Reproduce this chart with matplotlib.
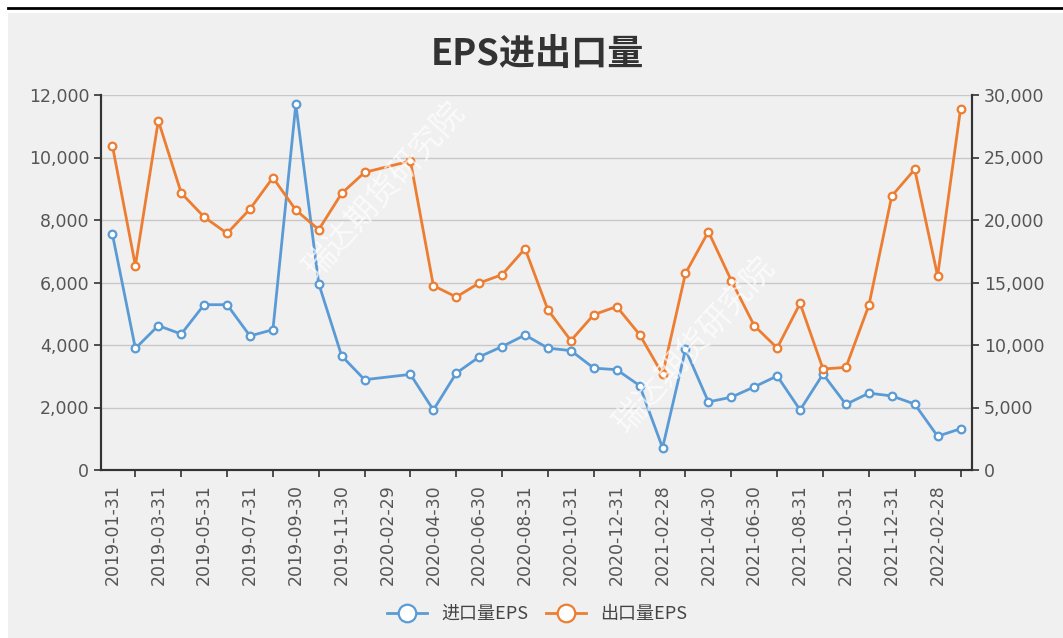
import numpy as np
import matplotlib.pyplot as plt
from matplotlib.ticker import FuncFormatter, FixedLocator

plt.rcParams['font.family'] = ['Noto Sans CJK SC', 'DejaVu Sans']

dates = ['2019-01-31', '2019-02-28', '2019-03-31', '2019-04-30', '2019-05-31', '2019-06-30',
         '2019-07-31', '2019-08-31', '2019-09-30', '2019-10-31', '2019-11-30', '2019-12-31',
         '2020-02-29', '2020-03-31', '2020-04-30', '2020-05-31', '2020-06-30', '2020-07-31',
         '2020-08-31', '2020-09-30', '2020-10-31', '2020-11-30', '2020-12-31', '2021-01-31',
         '2021-02-28', '2021-03-31', '2021-04-30', '2021-05-31', '2021-06-30', '2021-07-31',
         '2021-08-31', '2021-09-30', '2021-10-31', '2021-11-30', '2021-12-31', '2022-01-31',
         '2022-02-28', '2022-03-31']

imports = [7540, 3890, 4620, 4350, 5290, 5290, 4290, 4490, 11700, 5960, 3650, 2890,
           np.nan, 3060, 1920, 3100, 3620, 3950, 4320, 3900, 3820, 3260, 3210, 2700,
           710, 3860, 2180, 2330, 2660, 3010, 1920, 3070, 2100, 2460, 2370, 2110,
           1080, 1320]

exports = [25920, 16350, 27950, 22160, 20240, 18930, 20880, 23390, 20800, 19230, 22130, 23810,
           np.nan, 24720, 14750, 13840, 14960, 15630, 17710, 12800, 10350, 12430, 13070, 10830,
           7650, 15730, 19070, 15150, 11550, 9760, 13330, 8080, 8210, 13170, 21920, 24050,
           15520, 28880]

blue = '#5b9bd5'
orange = '#ed7d31'
panel = '#f0f0f0'
axis_col = '#333333'
label_col = '#555555'

fig = plt.figure(figsize=(10.63, 6.38), dpi=100)
fig.patch.set_facecolor('white')
# grey panel + black rule along the top
fig.add_artist(plt.Rectangle((8 / 1063, 0), 1, 1 - 13 / 638, transform=fig.transFigure,
                             facecolor=panel, edgecolor='none', zorder=-10))
fig.add_artist(plt.Line2D([8 / 1063, 1], [1 - 8 / 638] * 2, transform=fig.transFigure,
                          color='black', lw=2))

ax = fig.add_axes([101 / 1063, 1 - 470 / 638, 871 / 1063, 375 / 638])
ax2 = ax.twinx()
ax.set_facecolor(panel)
ax2.patch.set_visible(False)

x = np.arange(len(dates))
imp = np.array(imports, dtype=float)
exp_ = np.array(exports, dtype=float)
mi = ~np.isnan(imp)
me = ~np.isnan(exp_)

mk = dict(marker='o', markersize=5.5, markerfacecolor='white', markeredgewidth=1.6, lw=2)
l1, = ax.plot(x[mi], imp[mi], color=blue, markeredgecolor=blue, zorder=3, **mk)
l2, = ax2.plot(x[me], exp_[me], color=orange, markeredgecolor=orange, zorder=3, **mk)

ax.set_xlim(-0.5, len(dates) - 0.5)
ax.set_ylim(0, 12000)
ax2.set_ylim(0, 30000)
ax.set_yticks(np.arange(0, 12001, 2000))
ax2.set_yticks(np.arange(0, 30001, 5000))
fmt = FuncFormatter(lambda v, p: f'{int(v):,}')
ax.yaxis.set_major_formatter(fmt)
ax2.yaxis.set_major_formatter(fmt)
ax.grid(axis='y', color='#c8c8c8', lw=1)
ax.set_axisbelow(True)

# labels on even categories, tick marks on odd ones
ax.xaxis.set_major_locator(FixedLocator(x[::2]))
ax.set_xticklabels(dates[::2], rotation=90, fontsize=12.5, color=label_col,
                   family='DejaVu Sans')
ax.xaxis.set_minor_locator(FixedLocator(x[1::2]))
ax.tick_params(axis='x', which='major', length=0, pad=10)
ax.tick_params(axis='x', which='minor', length=5, color=axis_col, width=1.2)
for a in (ax, ax2):
    a.tick_params(axis='y', length=5, color=axis_col, labelsize=12.5,
                  labelcolor=label_col, width=1.2)
    for t in a.get_yticklabels():
        t.set_family('DejaVu Sans')
    a.spines['top'].set_visible(False)
    for s in ('left', 'right', 'bottom'):
        a.spines[s].set_color(axis_col)
        a.spines[s].set_linewidth(1.5)

fig.text(537 / 1063, 1 - 55 / 638, 'EPS进出口量', ha='center', va='center',
         fontsize=26, fontweight='bold', color='#333333')

for cx, cy in [(385, 190), (695, 345)]:
    fig.text(cx / 1063, 1 - cy / 638, '瑞达期货研究院', ha='center', va='center',
             rotation=48, fontsize=23, color='white', alpha=0.7, zorder=5)

fig.legend([l1, l2], ['进口量EPS', '出口量EPS'], loc='center', ncol=2,
           bbox_to_anchor=(537 / 1063, 1 - 614 / 638), frameon=False, fontsize=13,
           markerscale=2.3, handlelength=2.2, columnspacing=1.0, labelcolor='#444444')

fig.savefig('out.png', dpi=100)
